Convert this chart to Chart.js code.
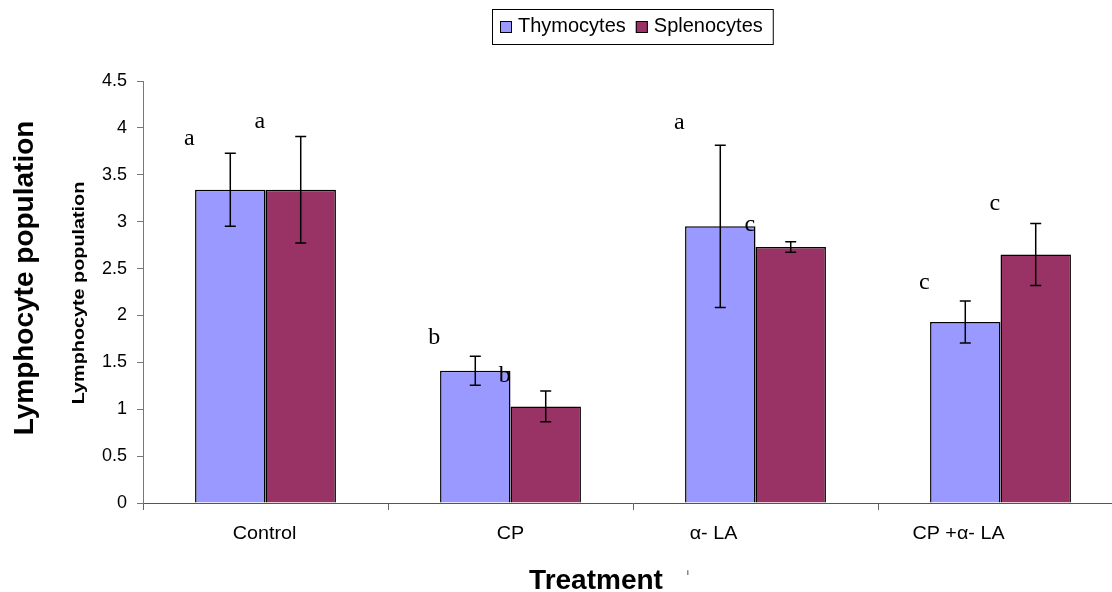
<!DOCTYPE html>
<html>
<head>
<meta charset="utf-8">
<script src="https://cdn.jsdelivr.net/npm/chart.js@4.4.1/dist/chart.umd.min.js"></script>
<style>
  html, body { margin: 0; padding: 0; overflow: hidden; background: #fff; }
  #wrap { width: 1125px; height: 592px; }
</style>
</head>
<body>
<div id="wrap"><canvas id="lymphoChart"></canvas></div>
<script>
const categories = ["Control", "CP", "\u03b1- LA", "CP +\u03b1- LA"];
const thymocytes = [3.34, 1.41, 2.95, 1.93];
const splenocytes = [3.34, 1.03, 2.73, 2.65];
const thymocytesSD = [0.39, 0.155, 0.865, 0.225];
const splenocytesSD = [0.567, 0.164, 0.055, 0.33];
const thyLetters = ["a", "b", "a", "c"];
const splLetters = ["a", "b", "c", "c"];
const thyLetterY = [3.82, 1.70, 3.99, 2.28];
const splLetterY = [4.00, 1.29, 2.90, 3.12];
const yTickLabels = ["0", "0.5", "1", "1.5", "2", "2.5", "3", "3.5", "4", "4.5"];

const sans = "'Liberation Sans', Arial, sans-serif";
const serif = "'Liberation Serif', 'Times New Roman', serif";
// labels 3 and 4 sit left of their category centre in the original
const labelShift = [-1, 0, -42, -42];

const dataChart = {
  labels: categories,
  datasets: [
    {
      label: "Thymocytes",
      data: thymocytes,
      sd: thymocytesSD,
      letters: thyLetters,
      letterY: thyLetterY,
      backgroundColor: "#9999ff",
      borderColor: "#000",
      borderWidth: 1.5,
      categoryPercentage: 0.575,
      barPercentage: 1.0
    },
    {
      label: "Splenocytes",
      data: splenocytes,
      sd: splenocytesSD,
      letters: splLetters,
      letterY: splLetterY,
      backgroundColor: "#993366",
      borderColor: "#000",
      borderWidth: 1.5,
      categoryPercentage: 0.575,
      barPercentage: 1.0
    }
  ]
};

function stretchText(ctx, text, x, y, font, sx, align) {
  ctx.save();
  ctx.translate(x, y);
  ctx.scale(sx, 1);
  ctx.font = font;
  ctx.textAlign = align || "center";
  ctx.textBaseline = "alphabetic";
  ctx.fillText(text, 0, 0);
  ctx.restore();
}

const extras = {
  id: "extras",
  afterDatasetsDraw(chart) {
    const ctx = chart.ctx;
    const y = chart.scales.y;
    // error bars
    ctx.save();
    ctx.strokeStyle = "#000";
    ctx.lineWidth = 1.5;
    chart.data.datasets.forEach((ds, di) => {
      chart.getDatasetMeta(di).data.forEach((bar, i) => {
        const top = y.getPixelForValue(ds.data[i] + ds.sd[i]);
        const bot = y.getPixelForValue(ds.data[i] - ds.sd[i]);
        ctx.beginPath();
        ctx.moveTo(bar.x, top); ctx.lineTo(bar.x, bot);
        ctx.moveTo(bar.x - 5.5, top); ctx.lineTo(bar.x + 5.5, top);
        ctx.moveTo(bar.x - 5.5, bot); ctx.lineTo(bar.x + 5.5, bot);
        ctx.stroke();
      });
    });
    ctx.restore();
  },
  afterDraw(chart) {
    const ctx = chart.ctx;
    const x = chart.scales.x;
    const y = chart.scales.y;
    ctx.save();
    ctx.fillStyle = "#000";

    // significance letters
    chart.data.datasets.forEach((ds, di) => {
      chart.getDatasetMeta(di).data.forEach((bar, i) => {
        stretchText(ctx, ds.letters[i], bar.x - 41, y.getPixelForValue(ds.letterY[i]), "24px " + serif, 1);
      });
    });

    // category labels
    categories.forEach((c, i) => {
      stretchText(ctx, c, x.getPixelForValue(i) + labelShift[i], 539, "19px " + sans, 1.04);
    });

    // axis titles
    stretchText(ctx, "Treatment", 596, 589, "bold 28px " + sans, 1);
    stretchText(ctx, "i", 688, 575, "8px " + sans, 1);

    ctx.save();
    ctx.translate(33, 278);
    ctx.rotate(-Math.PI / 2);
    stretchText(ctx, "Lymphocyte population", 0, 0, "bold 28px " + sans, 1);
    ctx.restore();

    ctx.save();
    ctx.translate(84, 293);
    ctx.rotate(-Math.PI / 2);
    stretchText(ctx, "Lymphocyte population", 0, 0, "bold 16.5px " + sans, 1.2);
    ctx.restore();

    // legend
    const lx = 492, ly = 9, lh = 35;
    ctx.font = "20px " + sans;
    let cx = lx + 8;
    chart.data.datasets.forEach((ds) => {
      ctx.fillStyle = ds.backgroundColor;
      ctx.fillRect(cx, 21, 12, 12);
      ctx.strokeStyle = "#000";
      ctx.lineWidth = 1;
      ctx.strokeRect(cx + 0.5, 21.5, 11, 11);
      cx += 18;
      ctx.fillStyle = "#000";
      ctx.textAlign = "left";
      ctx.textBaseline = "alphabetic";
      ctx.fillText(ds.label, cx, 32);
      cx += ctx.measureText(ds.label).width + 10;
    });
    ctx.strokeStyle = "#000";
    ctx.lineWidth = 1;
    ctx.strokeRect(lx + 0.5, ly + 0.5, cx - lx, lh);
    ctx.restore();
  }
};

const ctx = document.getElementById("lymphoChart").getContext("2d");

const myChart = new Chart(ctx, {
  type: "bar",
  data: dataChart,
  plugins: [extras],
  options: {
    responsive: true,
    maintainAspectRatio: false,
    animation: false,
    layout: { padding: { top: 81, left: 0, bottom: 0, right: 2 } },
    plugins: {
      legend: { display: false },
      tooltip: { enabled: false }
    },
    scales: {
      x: {
        grid: { display: true, drawOnChartArea: false, tickLength: 7, color: "#666", offset: true },
        border: { color: "#555", width: 1 },
        ticks: { display: false },
        afterFit: (scale) => { scale.height = 89; }
      },
      y: {
        min: 0,
        max: 4.5,
        ticks: {
          stepSize: 0.5,
          padding: 10,
          color: "#000",
          font: { family: sans, size: 18 },
          callback: (v, i) => yTickLabels[i]
        },
        grid: { display: true, drawOnChartArea: false, tickLength: 6, color: "#777" },
        border: { color: "#777", width: 1 },
        afterFit: (scale) => { scale.width = 143; }
      }
    }
  }
});
</script>
</body>
</html>
